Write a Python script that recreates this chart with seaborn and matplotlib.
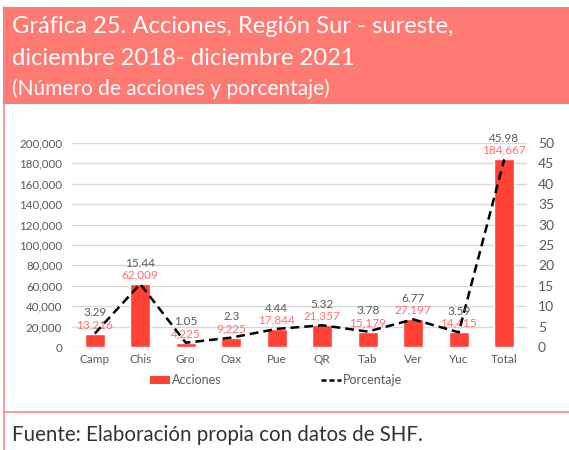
import numpy as np
import pandas as pd
import matplotlib
matplotlib.use("Agg")
import matplotlib.pyplot as plt
from matplotlib.patches import Rectangle, Patch
from matplotlib.lines import Line2D
from matplotlib.ticker import FuncFormatter
import seaborn as sns

estados = ["Camp", "Chis", "Gro", "Oax", "Pue", "QR", "Tab", "Ver", "Yuc", "Total"]
acciones = [13216, 62009, 4225, 9225, 17844, 21357, 15179, 27197, 14415, 184667]
porcentaje = [3.29, 15.44, 1.05, 2.3, 4.44, 5.32, 3.78, 6.77, 3.59, 45.98]

df = pd.DataFrame({"estado": estados, "acciones": acciones, "porcentaje": porcentaje})

sns.set_theme(style="white")
plt.rcParams["font.family"] = ["Lato", "DejaVu Sans"]

W, H = 569, 450
fig = plt.figure(figsize=(W / 100, H / 100), dpi=100)


def px(x, y):
    # pixel coords (top-left origin) -> figure fraction
    return x / W, 1 - y / H


rojo = "#FF4136"
rosa = "#FF7A72"
gris = "#595959"

# header band and frame lines
fig.patches.append(Rectangle((3 / W, 1 - 104 / H), 1, 97 / H, transform=fig.transFigure,
                             facecolor=rosa, edgecolor="none", zorder=0))
fig.add_artist(Line2D([3.5 / W, 3.5 / W], [0, 1 - 7 / H], transform=fig.transFigure,
                      color="#F4868A", lw=1.2))
fig.add_artist(Line2D([3.5 / W, 1], [1 - 411.5 / H, 1 - 411.5 / H], transform=fig.transFigure,
                      color="#F4868A", lw=1.2))

fig.text(*px(12, 33), "Gráfica 25. Acciones, Región Sur - sureste,", color="white",
         fontsize=17.1, va="baseline")
fig.text(*px(12, 65), "diciembre 2018- diciembre 2021", color="white",
         fontsize=17.1, va="baseline")
fig.text(*px(12, 95), "(Número de acciones y porcentaje)", color="white",
         fontsize=15, va="baseline")
fig.text(*px(12, 441), "Fuente: Elaboración propia con datos de SHF.", color="#333333",
         fontsize=14.8, va="baseline")

x0, y0 = px(72, 347)
x1, y1 = px(527, 143)
ax = fig.add_axes([x0, y0, x1 - x0, y1 - y0])
ax2 = ax.twinx()

sns.barplot(data=df, x="estado", y="acciones", color=rojo, width=0.43, saturation=1,
            ax=ax, zorder=2)
sns.pointplot(data=df, x="estado", y="porcentaje", color="black", linestyle="--",
              marker="", ax=ax2, linewidth=1.8)
for l in ax2.lines:
    l.set_dashes([3.5, 2])

ax.set_ylim(0, 200000)
ax2.set_ylim(0, 50)
ax.set_yticks(np.arange(0, 200001, 20000))
ax2.set_yticks(np.arange(0, 51, 5))
ax.yaxis.set_major_formatter(FuncFormatter(lambda v, p: f"{int(v):,}"))
ax.set_xlim(-0.5, len(estados) - 0.5)
ax.grid(axis="y", color="#D9D9D9", lw=1)
ax.set_axisbelow(True)
for a in (ax, ax2):
    for s in a.spines.values():
        s.set_visible(False)
    a.set_xlabel("")
    a.set_ylabel("")
    a.tick_params(length=0, labelsize=8.3, labelcolor=gris)
ax.tick_params(axis="y", pad=7)
ax.tick_params(axis="x", labelsize=8.5, pad=5)
ax2.tick_params(axis="y", pad=8, labelsize=10)

for i, (v, p) in enumerate(zip(acciones, porcentaje)):
    ax.annotate(f"{v:,}", (i, v), xytext=(0, 6.5), textcoords="offset points",
                ha="center", va="center", fontsize=8.5, color="#FF6F6F")
    ax2.annotate(f"{p:g}", (i, p), xytext=(0, 15), textcoords="offset points",
                 ha="center", va="center", fontsize=8.5, color=gris)

handles = [Patch(facecolor=rojo, edgecolor="none"),
           Line2D([], [], color="black", ls="--", lw=1.8, dashes=[2, 1.2])]
fig.legend(handles, ["Acciones", "Porcentaje"], loc="center", bbox_to_anchor=px(276, 380),
           ncol=2, frameon=False, fontsize=9, labelcolor=gris, columnspacing=7.9,
           handlelength=1.6, handleheight=0.6, handletextpad=0.2)

fig.savefig("out.png", dpi=100)
